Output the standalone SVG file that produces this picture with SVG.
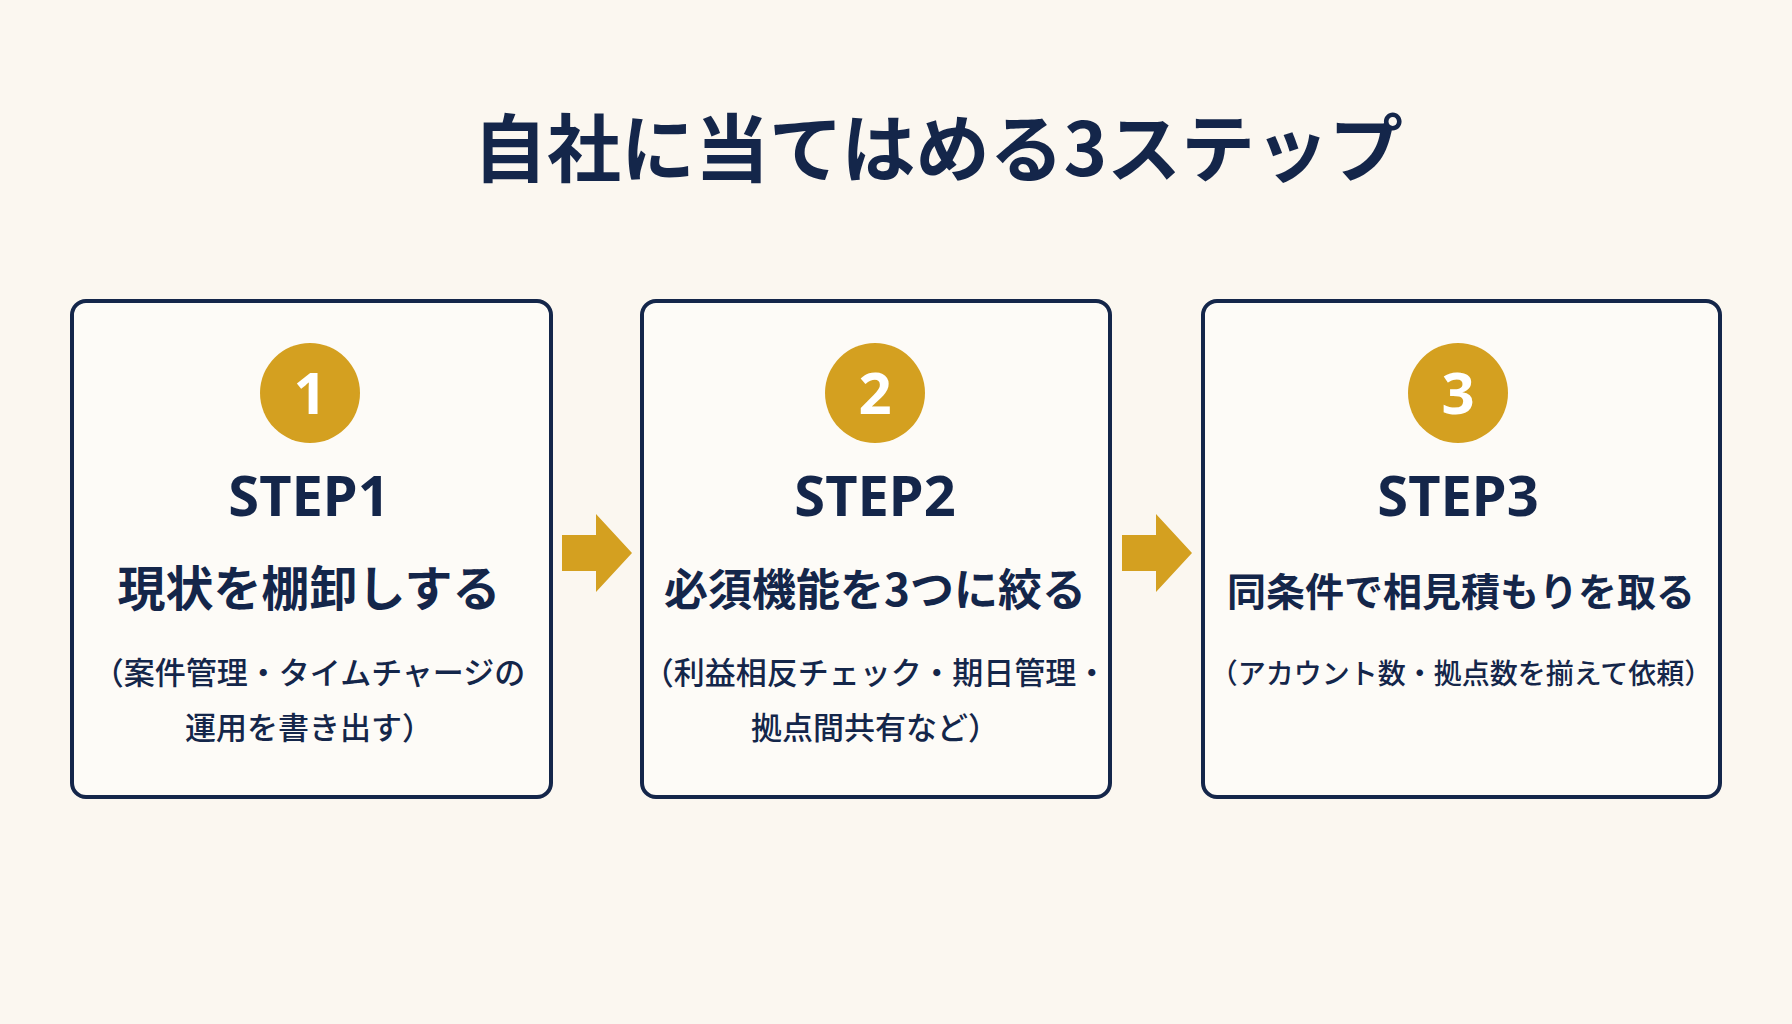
<svg xmlns="http://www.w3.org/2000/svg" width="1792" height="1024" viewBox="0 0 1792 1024">
<style>
text{font-family:"Noto Sans CJK JP","Noto Sans",sans-serif;fill:#14264a;text-anchor:middle;font-weight:700}
.box{fill:#fdfbf7;stroke:#14264a;stroke-width:4}
.num{fill:#fff;font-size:58px;font-family:"Noto Sans",sans-serif}
.step{font-size:56px;font-family:"Noto Sans",sans-serif}
.main{font-size:44px}
.sub{font-size:31px;font-weight:500}
.arr{fill:#d4a020}
</style>
<rect width="1792" height="1024" fill="#fbf7f0"/>
<text x="938" y="176" style="font-size:74px">自社に当てはめる3ステップ</text>
<g id="step1">
<rect class="box" x="72" y="301" width="479" height="496" rx="14"/>
<circle cx="310" cy="393" r="50" fill="#d4a020"/>
<text class="num" x="310" y="414">1</text>
<text class="step" x="309" y="516">STEP1</text>
<text class="main" x="309" y="606" style="font-size:48px">現状を棚卸しする</text>
<text class="sub" x="309" y="684">（案件管理・タイムチャージの</text>
<text class="sub" x="309" y="739">運用を書き出す）</text>
</g>
<g id="step2">
<rect class="box" x="642" y="301" width="468" height="496" rx="14"/>
<circle cx="875" cy="393" r="50" fill="#d4a020"/>
<text class="num" x="875" y="414">2</text>
<text class="step" x="875" y="516">STEP2</text>
<text class="main" x="875" y="606">必須機能を3つに絞る</text>
<text class="sub" x="875" y="684">（利益相反チェック・期日管理・</text>
<text class="sub" x="875" y="739">拠点間共有など）</text>
</g>
<g id="step3">
<rect class="box" x="1203" y="301" width="517" height="496" rx="14"/>
<circle cx="1458" cy="393" r="50" fill="#d4a020"/>
<text class="num" x="1458" y="414">3</text>
<text class="step" x="1458" y="516">STEP3</text>
<text class="main" x="1461" y="606" style="font-size:39px">同条件で相見積もりを取る</text>
<text class="sub" x="1461" y="684" style="font-size:28px">（アカウント数・拠点数を揃えて依頼）</text>
</g>
<g id="connectors">
<polygon class="arr" points="562,535 596,535 596,514 632,553 596,592 596,571 562,571"/>
<polygon class="arr" points="1122,535 1156,535 1156,514 1192,553 1156,592 1156,571 1122,571"/>
</g>
</svg>
